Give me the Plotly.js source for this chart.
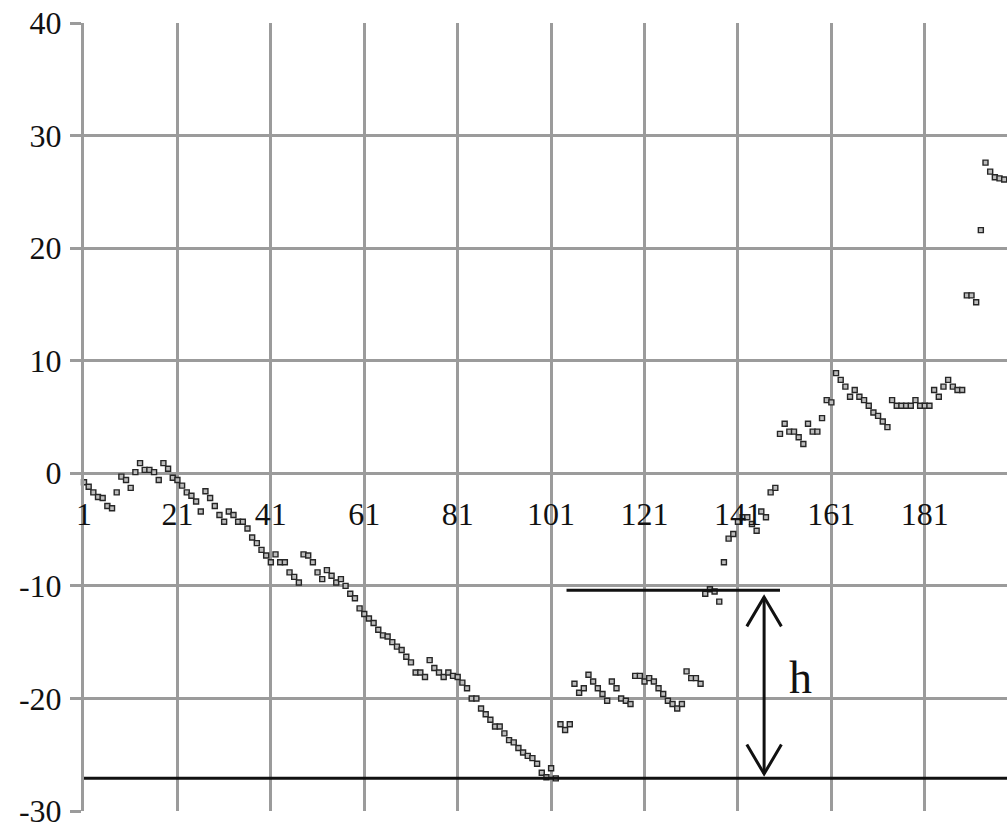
<!DOCTYPE html>
<html>
<head>
<meta charset="utf-8">
<script src="https://cdn.plot.ly/plotly-3.0.1.min.js"></script>
<style>html,body{margin:0;padding:0;background:#fff;}#chart{width:1007px;height:829px;}</style>
</head>
<body>
<div id="chart"></div>
<script>
// Series values for categories 1..198
const seg1 = [-0.8,-1.2,-1.7,-2.1,-2.2,-2.9,-3.1,-1.7,-0.3,-0.6,-1.3,0.1,0.9,0.3,0.3,0.1,-0.6,0.9,0.4,-0.4];
const seg2 = [-0.6,-1.1,-1.7,-2.0,-2.5,-3.4,-1.6,-2.2,-2.9,-3.7,-4.3,-3.4,-3.7,-4.3,-4.3,-4.9,-5.7,-6.2,-6.8,-7.3];
const seg3 = [-7.9,-7.2,-7.9,-7.9,-8.8,-9.2,-9.7,-7.2,-7.3,-7.9,-8.8,-9.4,-8.6,-9.1,-9.7,-9.4,-10.0,-10.7,-11.1,-12.0];
const seg4 = [-12.5,-12.9,-13.3,-13.9,-14.4,-14.5,-15.0,-15.4,-15.7,-16.3,-16.8,-17.7,-17.7,-18.1,-16.6,-17.3,-17.7,-18.1,-17.7,-18.0];
const seg5 = [-18.1,-18.6,-19.1,-20.0,-20.0,-20.9,-21.4,-21.9,-22.5,-22.5,-23.1,-23.7,-23.9,-24.4,-24.8,-25.1,-25.3,-25.8,-26.6,-27.0];
const seg6 = [-26.2,-27.1,-22.3,-22.8,-22.3,-18.7,-19.5,-19.1,-17.9,-18.5,-19.1,-19.6,-20.2,-18.5,-19.1,-20.0,-20.2,-20.5,-18.0,-18.0];
const seg7 = [-18.5,-18.2,-18.5,-19.1,-19.6,-20.2,-20.5,-20.9,-20.5,-17.6,-18.2,-18.2,-18.7,-10.7,-10.3,-10.5,-11.4,-7.9,-5.8,-5.4];
const seg8 = [-4.3,-3.9,-3.9,-4.5,-5.1,-3.4,-3.9,-1.7,-1.3,3.5,4.4,3.7,3.7,3.2,2.6,4.4,3.7,3.7,4.9,6.5];
const seg9 = [6.3,8.9,8.3,7.7,6.8,7.4,6.8,6.5,6.0,5.4,5.1,4.6,4.1,6.5,6.0,6.0,6.0,6.0,6.5,6.0];
const seg10 = [6.0,6.0,7.4,6.8,7.7,8.3,7.7,7.4,7.4,15.8,15.8,15.2,21.6,27.6,26.8,26.3,26.2,26.1];
const values = [].concat(seg1,seg2,seg3,seg4,seg5,seg6,seg7,seg8,seg9,seg10);
const categories = values.map((v,i)=>i+1);

const xTickVals = [1,21,41,61,81,101,121,141,161,181];
const xTickText = ["1","21","41","61","81","101","121","141","161","181"];
const yTickVals = [-30,-20,-10,0,10,20,30,40];
const yTickText = ["-30","-20","-10","0","10","20","30","40"];

// Reference levels marked on the chart
const upperLevel = -10.4;
const lowerLevel = -27.1;

const gridColor = '#9b9b9b';
const serif = '"Liberation Serif", "Times New Roman", serif';

const trace = {
  x: categories,
  y: values,
  type: 'scatter',
  mode: 'markers',
  cliponaxis: false,
  marker: {symbol: 'square', size: 5, color: '#bdbdbd', line: {color: '#262626', width: 1.4}},
  hoverinfo: 'x+y'
};

const ax = 146.6, adx = 3.7, ady = 2.6;
const topTip = -11.0, botTip = -26.7;

const layout = {
  width: 1007, height: 829,
  margin: {l: 84, r: 0, t: 23, b: 18, pad: 0},
  paper_bgcolor: '#fff', plot_bgcolor: '#fff',
  showlegend: false,
  font: {family: serif, color: '#111', size: 32},
  xaxis: {
    range: [1, 198.6],
    tickmode: 'array', tickvals: xTickVals, ticktext: xTickText,
    showgrid: true, gridcolor: gridColor, gridwidth: 3,
    zeroline: false, showline: false,
    ticks: '', ticklabelstandoff: 19,
    anchor: 'free', position: 3/7,
    tickfont: {family: serif, size: 32, color: '#111'}
  },
  yaxis: {
    range: [-30, 40],
    tickmode: 'array', tickvals: yTickVals, ticktext: yTickText,
    showgrid: true, gridcolor: gridColor, gridwidth: 3,
    zeroline: false, showline: true, linecolor: gridColor, linewidth: 3,
    ticks: 'outside', ticklen: 11, tickwidth: 3, tickcolor: gridColor,
    ticklabelstandoff: 2, ticklabeloverflow: 'allow',
    tickfont: {family: serif, size: 32, color: '#111'}
  },
  shapes: [
    {type: 'line', xref: 'paper', yref: 'y', x0: 0, x1: 1, y0: lowerLevel, y1: lowerLevel, line: {color: '#111', width: 3}},
    {type: 'line', xref: 'x', yref: 'y', x0: 104.3, x1: 150.0, y0: upperLevel, y1: upperLevel, line: {color: '#111', width: 3}},
    {type: 'line', xref: 'x', yref: 'y', x0: ax, x1: ax, y0: topTip, y1: botTip, line: {color: '#111', width: 3}},
    {type: 'path', xref: 'x', yref: 'y', path: `M ${ax-adx} ${topTip-ady} L ${ax} ${topTip} L ${ax+adx} ${topTip-ady}`, line: {color: '#111', width: 3}},
    {type: 'path', xref: 'x', yref: 'y', path: `M ${ax-adx} ${botTip+ady} L ${ax} ${botTip} L ${ax+adx} ${botTip+ady}`, line: {color: '#111', width: 3}}
  ],
  annotations: [
    {x: 154.3, y: -18.1, xref: 'x', yref: 'y', text: 'h', showarrow: false, font: {family: serif, size: 46, color: '#111'}}
  ]
};

Plotly.newPlot('chart', [trace], layout, {displayModeBar: false, staticPlot: true});
</script>
</body>
</html>
